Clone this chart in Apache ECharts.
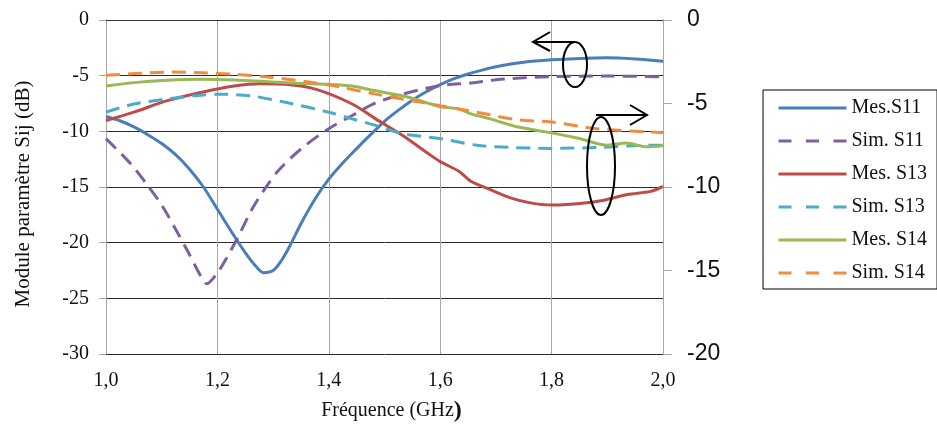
<!DOCTYPE html>
<html>
<head>
<meta charset="utf-8">
<script src="https://cdn.jsdelivr.net/npm/echarts@6/dist/echarts.min.js"></script>
<style>html,body{margin:0;padding:0;background:#fff;}#c{width:937px;height:428px;}</style>
</head>
<body>
<div id="c"></div>
<script>
// ---- Data ----
const xTicks = [1.0, 1.2, 1.4, 1.6, 1.8, 2.0];
const leftTicks = [0, -5, -10, -15, -20, -25, -30];
const rightTicks = [0, -5, -10, -15, -20];

const mesS11Freq = [1.0, 1.025, 1.05, 1.075, 1.1, 1.125, 1.15, 1.175, 1.2, 1.225, 1.25, 1.267, 1.283, 1.3, 1.315, 1.33, 1.35, 1.375, 1.4, 1.425, 1.45, 1.475, 1.5, 1.525, 1.55, 1.575, 1.6, 1.625, 1.65, 1.675, 1.7, 1.75, 1.8, 1.85, 1.9, 1.95, 2.0];
const mesS11 = [-8.67, -9.05, -9.6, -10.3, -11.1, -12.1, -13.4, -15.0, -17.0, -19.0, -20.9, -22.0, -22.7, -22.5, -21.6, -20.3, -18.3, -16.1, -14.3, -12.85, -11.55, -10.3, -9.1, -8.1, -7.2, -6.45, -5.8, -5.27, -4.85, -4.5, -4.2, -3.8, -3.58, -3.45, -3.4, -3.5, -3.7];

const simS11Freq = [1.0, 1.044, 1.074, 1.101, 1.125, 1.146, 1.169, 1.181, 1.2, 1.214, 1.238, 1.262, 1.286, 1.31, 1.352, 1.4, 1.442, 1.484, 1.532, 1.6, 1.655, 1.714, 1.8, 1.894, 2.0];
const simS11 = [-10.65, -12.9, -14.8, -16.7, -18.8, -20.7, -22.9, -23.7, -22.7, -21.6, -19.4, -17.0, -15.1, -13.5, -11.5, -9.76, -8.58, -7.45, -6.66, -5.9, -5.65, -5.3, -5.09, -5.03, -5.1];

const mesS13Freq = [1.0, 1.05, 1.11, 1.17, 1.23, 1.277, 1.322, 1.376, 1.442, 1.484, 1.532, 1.574, 1.6, 1.634, 1.655, 1.69, 1.726, 1.762, 1.8, 1.846, 1.894, 1.936, 1.978, 2.0];
const mesS13 = [-6.02, -5.52, -4.83, -4.34, -3.95, -3.81, -3.85, -4.14, -5.03, -5.92, -6.9, -7.89, -8.48, -9.07, -9.66, -10.16, -10.65, -10.95, -11.08, -11.0, -10.79, -10.45, -10.26, -9.96];

const simS13Freq = [1.0, 1.05, 1.11, 1.17, 1.2, 1.26, 1.322, 1.4, 1.442, 1.484, 1.532, 1.6, 1.666, 1.726, 1.8, 1.882, 1.978, 2.0];
const simS13 = [-5.52, -5.03, -4.73, -4.5, -4.44, -4.54, -4.93, -5.52, -5.92, -6.31, -6.8, -7.1, -7.5, -7.63, -7.69, -7.63, -7.5, -7.5];

const mesS14Freq = [1.0, 1.05, 1.11, 1.17, 1.23, 1.29, 1.34, 1.4, 1.442, 1.484, 1.532, 1.574, 1.6, 1.634, 1.655, 1.69, 1.74, 1.8, 1.85, 1.9, 1.934, 1.97, 2.0];
const mesS14 = [-3.95, -3.75, -3.61, -3.55, -3.59, -3.69, -3.79, -3.85, -3.95, -4.24, -4.54, -4.93, -5.19, -5.33, -5.62, -5.92, -6.41, -6.76, -7.1, -7.5, -7.36, -7.59, -7.53];

const simS14Freq = [1.0, 1.05, 1.11, 1.17, 1.23, 1.29, 1.34, 1.4, 1.484, 1.532, 1.6, 1.666, 1.74, 1.8, 1.882, 1.978, 2.0];
const simS14 = [-3.31, -3.21, -3.12, -3.16, -3.25, -3.41, -3.61, -3.89, -4.44, -4.73, -5.13, -5.52, -5.98, -6.11, -6.51, -6.71, -6.75];

const seriesNames = ['Mes.S11', 'Sim. S11', 'Mes. S13', 'Sim. S13', 'Mes. S14', 'Sim. S14'];

// ---- Chart ----
const zip = (xs, ys) => xs.map((x, i) => [x, ys[i]]);
const colors = ['#4A7EBB', '#7D60A0', '#BE4B48', '#4BACC6', '#98B954', '#F38B3C'];
const dashed = [false, true, false, true, false, true];
const yIdx = [0, 0, 1, 1, 1, 1];
const datas = [zip(mesS11Freq, mesS11), zip(simS11Freq, simS11), zip(mesS13Freq, mesS13),
               zip(simS13Freq, simS13), zip(mesS14Freq, mesS14), zip(simS14Freq, simS14)];

const serif = 'Liberation Serif';
const chart = echarts.init(document.getElementById('c'), null, {renderer: 'canvas'});

const series = seriesNames.map((n, i) => ({
  name: n, type: 'line', yAxisIndex: yIdx[i], data: datas[i],
  symbol: 'none', smooth: 0.3, z: 3,
  lineStyle: {color: colors[i], width: 3, type: dashed[i] ? [14, 8] : 'solid'},
  itemStyle: {color: colors[i]}
}));

const lbl = (v) => v.toFixed(1).replace('.', ',');

chart.setOption({
  animation: false,
  backgroundColor: '#fff',
  grid: {left: 106, right: 274, top: 20, bottom: 70, containLabel: false},
  legend: {
    orient: 'vertical', left: 763, top: 90,
    padding: [8, 10, 6, 14],
    borderColor: '#000', borderWidth: 1,
    itemWidth: 68, itemHeight: 14, itemGap: 13,
    textStyle: {fontFamily: serif, fontSize: 20, lineHeight: 20, color: '#111'},
    data: seriesNames.map((n, i) => ({
      name: n,
      itemStyle: {opacity: 0},
      lineStyle: {color: colors[i], width: 3, type: dashed[i] ? [13, 14.5] : 'solid'}
    }))
  },
  xAxis: {
    type: 'value', min: 1, max: 2, interval: 0.2,
    axisLine: {show: true, lineStyle: {color: '#333', width: 1}},
    axisTick: {show: false},
    splitLine: {show: true, lineStyle: {color: '#a6a6a6', width: 1}},
    axisLabel: {formatter: lbl, fontFamily: serif, fontSize: 20, color: '#111', margin: 17},
    name: '{a|Fréquence (GHz}{b|)}', nameLocation: 'middle', nameGap: 45,
    nameTextStyle: {
      padding: [0, 0, 0, 14],
      rich: {a: {fontFamily: serif, fontSize: 20, color: '#111'},
             b: {fontFamily: serif, fontSize: 24, fontWeight: 'bold', color: '#111'}}
    }
  },
  yAxis: [{
    type: 'value', position: 'left', min: -30, max: 0, interval: 5,
    axisLine: {show: true, lineStyle: {color: '#a6a6a6'}},
    axisTick: {show: true, length: 7, lineStyle: {color: '#a6a6a6'}},
    splitLine: {show: true, lineStyle: {color: ['#2a2a2a', '#2a2a2a', '#2a2a2a', '#2a2a2a', '#2a2a2a', '#2a2a2a', '#a6a6a6'], width: 1}},
    axisLabel: {fontFamily: serif, fontSize: 20, color: '#111', margin: 17},
    name: 'Module paramètre Sij (dB)', nameLocation: 'middle', nameGap: 72, nameRotate: 90,
    nameTextStyle: {fontFamily: serif, fontSize: 21, color: '#111', padding: [0, 14, 0, 0]}
  }, {
    type: 'value', position: 'right', min: -20, max: 0, interval: 5,
    axisLine: {show: true, lineStyle: {color: '#a6a6a6'}},
    axisTick: {show: true, length: 9, lineStyle: {color: '#a6a6a6'}},
    splitLine: {show: false},
    axisLabel: {fontFamily: 'Liberation Sans', fontSize: 23, color: '#111', margin: 24}
  }],
  series: series,
  graphic: [
    {type: 'ellipse', shape: {cx: 575, cy: 64.5, rx: 12, ry: 22.5}, style: {fill: 'none', stroke: '#000', lineWidth: 2}, z: 10},
    {type: 'polyline', shape: {points: [[575, 42], [533, 42]]}, style: {stroke: '#000', lineWidth: 2}, z: 10},
    {type: 'polyline', shape: {points: [[550, 32], [533, 42], [550, 51]]}, style: {stroke: '#000', fill: 'none', lineWidth: 2}, z: 10},
    {type: 'ellipse', shape: {cx: 601, cy: 166, rx: 14, ry: 49}, style: {fill: 'none', stroke: '#000', lineWidth: 2}, z: 10},
    {type: 'polyline', shape: {points: [[596, 115], [647, 115]]}, style: {stroke: '#000', lineWidth: 2}, z: 10},
    {type: 'polyline', shape: {points: [[630, 105], [647, 115], [630, 125]]}, style: {stroke: '#000', fill: 'none', lineWidth: 2}, z: 10}
  ]
});
</script>
</body>
</html>
